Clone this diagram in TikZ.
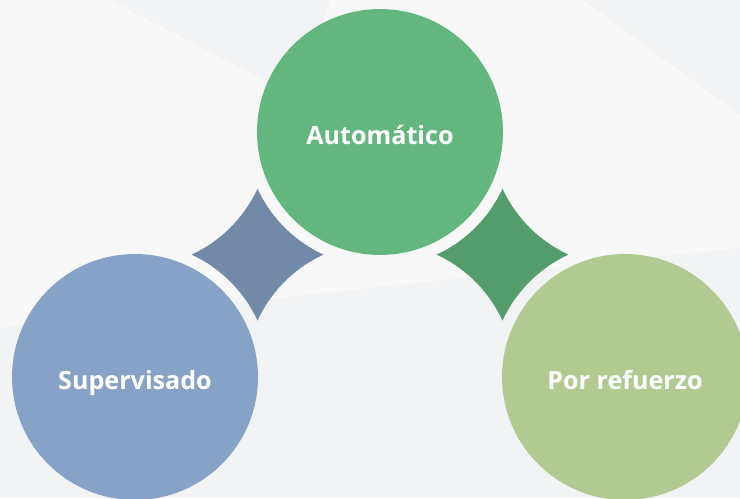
\documentclass[tikz,border=0pt]{standalone}
\usepackage{fontspec}
\setmainfont{Open Sans}
\usepackage{tikz}

\definecolor{fondo}{HTML}{F2F3F5}
\definecolor{claro}{HTML}{F8F8F9}
\definecolor{verde}{HTML}{63B77E}
\definecolor{azul}{HTML}{87A2C7}
\definecolor{oliva}{HTML}{B2CA92}
\definecolor{azulosc}{HTML}{7289A8}
\definecolor{verdeosc}{HTML}{529D6B}

\begin{document}
\begin{tikzpicture}[x=0.02cm,y=0.02cm,
        bola/.style={circle,minimum size=4.92cm,inner sep=0pt,text=white,
                     text height=14.5pt,text depth=0pt,
                     font=\fontsize{14.3}{17}\selectfont\bfseries},
        joint/.pic={\fill (0,65.8) arc[start angle=204.8,delta angle=40.4,radius=135]
                               arc[start angle=114.8,delta angle=40.4,radius=135]
                               arc[start angle=24.8,delta angle=40.4,radius=135]
                               arc[start angle=-65.2,delta angle=40.4,radius=135] -- cycle;}]

        % \draw [help lines] (0,0) grid (740,498);

        \useasboundingbox (0,0) rectangle (740,498);
        \clip (0,0) rectangle (740,498);

        % fondo
        \fill[claro] (0,0) rectangle (740,498);
        \fill[fondo] (110,498) -- (330,498) -- (300,400) -- cycle;
        \fill[fondo] (583,498) -- (740,498) -- (740,383) -- cycle;
        \fill[fondo] (0,0) -- (740,0) -- (740,250) -- (0,170) -- cycle;

        \path   (380,366) node (a) [bola,fill = verde] {Automático}
                (135,121) node (b) [bola,fill = azul] {Supervisado}
                (625,121) node (c) [bola,fill = oliva] {Por refuerzo};

        \coordinate (ab) at (257.5,243.5);
        \coordinate (ac) at (502.5,243.5);

        \pic [fill = azulosc] at (ab) {joint};
        \pic [fill = verdeosc] at (ac) {joint};

\end{tikzpicture}
\end{document}
